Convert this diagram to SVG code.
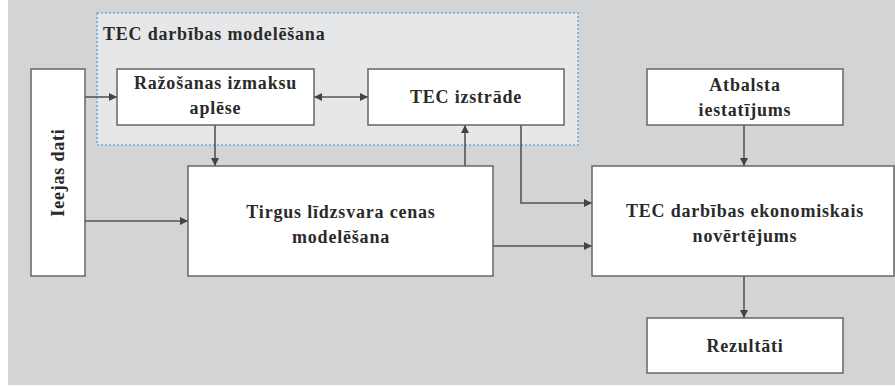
<svg xmlns="http://www.w3.org/2000/svg" width="895" height="387" viewBox="0 0 895 387">
<defs>
<marker id="ah" viewBox="0 0 10 10" refX="10" refY="5" markerWidth="8" markerHeight="8" markerUnits="userSpaceOnUse" orient="auto-start-reverse">
<path d="M0,0 L10,5 L0,10 z" fill="#444"/>
</marker>
<style>
.box{fill:#fff;stroke:#666;stroke-width:1.5}
.t{font-family:"Liberation Serif","Times New Roman",serif;font-size:18px;font-weight:bold;fill:#2a2a2a;text-anchor:middle;letter-spacing:0.8px}
.c{fill:none;stroke:#555;stroke-width:1.6;marker-end:url(#ah)}
</style>
</defs>
<rect x="0" y="0" width="895" height="387" fill="#fff"/>
<rect x="8" y="0" width="887" height="385" fill="#d3d4d6"/>
<g id="container">
<rect x="97" y="13" width="481" height="132" fill="#e6e7e9" stroke="#6aaad8" stroke-width="1.5" stroke-dasharray="2,2"/>
<text class="t" x="103" y="40" style="text-anchor:start">TEC darbības modelēšana</text>
</g>
<g id="connectors">
<line class="c" x1="85" y1="97" x2="117" y2="97"/>
<line class="c" x1="314" y1="97" x2="368" y2="97" marker-start="url(#ah)"/>
<line class="c" x1="85" y1="221" x2="188" y2="221"/>
<line class="c" x1="215" y1="125" x2="215" y2="166"/>
<line class="c" x1="465" y1="166" x2="465" y2="125"/>
<polyline class="c" points="521,125 521,203 592,203"/>
<line class="c" x1="493" y1="246" x2="592" y2="246"/>
<line class="c" x1="744" y1="125" x2="744" y2="166"/>
<line class="c" x1="744" y1="276" x2="744" y2="318"/>
</g>
<g id="ieejas-dati">
<rect class="box" x="31" y="69" width="54" height="207"/>
<text class="t" transform="translate(64,172.5) rotate(-90)">Ieejas dati</text>
</g>
<g id="razosanas">
<rect class="box" x="117" y="69" width="197" height="56"/>
<text class="t" x="215.5" y="89">Ražošanas izmaksu</text>
<text class="t" x="215.5" y="114">aplēse</text>
</g>
<g id="tec-izstrade">
<rect class="box" x="368" y="69" width="196" height="56"/>
<text class="t" x="466" y="103">TEC izstrāde</text>
</g>
<g id="atbalsta">
<rect class="box" x="647" y="69" width="196" height="56"/>
<text class="t" x="745" y="91">Atbalsta</text>
<text class="t" x="745" y="116">iestatījums</text>
</g>
<g id="tirgus">
<rect class="box" x="188" y="166" width="305" height="110"/>
<text class="t" x="341" y="218">Tirgus līdzsvara cenas</text>
<text class="t" x="341" y="243">modelēšana</text>
</g>
<g id="ekonomiskais">
<rect class="box" x="592" y="166" width="302" height="110"/>
<text class="t" x="745" y="217">TEC darbības ekonomiskais</text>
<text class="t" x="745" y="242">novērtējums</text>
</g>
<g id="rezultati">
<rect class="box" x="647" y="318" width="196" height="55"/>
<text class="t" x="745" y="352">Rezultāti</text>
</g>
</svg>
